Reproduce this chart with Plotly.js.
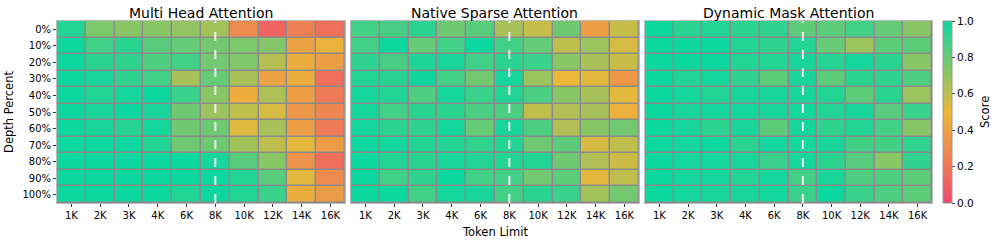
<!DOCTYPE html>
<html><head><meta charset="utf-8">
<script src="https://cdn.plot.ly/plotly-3.0.1.min.js"></script>
<style>body{margin:0;background:#fff}#c{width:996px;height:243px}</style>
</head><body><div id="c"></div>
<script>
const tokenLimits = ["1K","2K","3K","4K","6K","8K","10K","12K","14K","16K"];
const depthPercents = ["0%","10%","20%","30%","40%","50%","60%","70%","80%","90%","100%"];
const titles = ["Multi Head Attention","Native Sparse Attention","Dynamic Mask Attention"];

const mhaScores = [
  [0.95,0.75,0.72,0.72,0.70,0.66,0.30,0.12,0.25,0.18],
  [1.00,0.88,0.93,0.83,0.80,0.77,0.75,0.73,0.40,0.47],
  [1.00,0.93,0.92,0.85,0.88,0.77,0.74,0.62,0.45,0.38],
  [1.00,0.97,0.92,0.88,0.65,0.80,0.65,0.40,0.45,0.17],
  [1.00,0.95,0.98,1.00,0.90,0.72,0.45,0.64,0.38,0.22],
  [1.00,0.97,1.00,0.97,0.78,0.68,0.60,0.55,0.35,0.27],
  [1.00,0.97,0.94,0.98,0.78,0.78,0.53,0.65,0.38,0.22],
  [1.00,1.00,1.00,0.95,0.78,0.78,0.66,0.60,0.52,0.37],
  [1.00,1.00,1.00,1.00,1.00,0.98,0.83,0.72,0.33,0.17],
  [1.00,1.00,1.00,1.00,1.00,1.00,0.95,0.83,0.52,0.30],
  [1.00,1.00,1.00,1.00,0.95,1.00,0.95,0.90,0.45,0.37]
];
const nsaScores = [
  [0.88,0.87,0.93,0.78,0.83,0.65,0.58,0.78,0.38,0.58],
  [0.88,1.00,0.80,0.88,1.00,0.88,0.80,0.60,0.68,0.55],
  [0.92,0.87,0.96,0.97,0.88,0.93,0.90,0.72,0.65,0.58],
  [0.95,0.94,0.99,0.88,0.77,0.98,0.68,0.50,0.52,0.35],
  [0.98,0.95,0.85,0.98,0.90,0.95,0.86,0.72,0.65,0.52],
  [0.98,0.88,0.93,0.93,0.86,0.86,0.60,0.63,0.65,0.47],
  [0.98,0.93,0.92,0.98,0.80,0.97,0.86,0.63,0.72,0.77],
  [1.00,0.98,0.95,0.95,0.92,0.95,0.78,0.82,0.55,0.60],
  [1.00,0.95,0.93,0.97,0.95,0.95,0.95,0.78,0.63,0.57],
  [1.00,0.88,0.92,1.00,0.88,0.88,0.77,0.82,0.52,0.60],
  [1.00,1.00,0.88,0.98,0.97,0.88,0.93,0.90,0.66,0.77]
];
const dmaScores = [
  [1.00,0.93,0.95,0.93,0.92,0.82,0.82,0.88,0.80,0.72],
  [1.00,1.00,1.00,0.95,0.92,0.95,0.80,0.68,0.82,0.82],
  [1.00,1.00,1.00,0.95,0.95,0.97,0.94,0.98,0.93,0.72],
  [1.00,0.95,0.98,0.92,0.82,0.97,0.82,0.93,0.92,0.85],
  [1.00,0.98,0.95,0.97,0.97,0.97,0.95,0.82,0.93,0.68],
  [1.00,0.97,0.98,0.98,0.97,0.98,0.95,0.97,0.83,0.90],
  [1.00,0.98,0.93,0.97,0.82,0.98,0.92,0.95,0.88,0.72],
  [1.00,0.98,1.00,0.93,0.98,0.98,0.97,0.88,0.88,0.92],
  [1.00,0.98,0.98,0.97,0.90,0.98,0.93,0.83,0.72,0.92],
  [1.00,0.98,0.98,0.95,0.98,0.88,0.97,0.85,0.85,0.82],
  [1.00,0.98,0.97,0.97,0.98,0.90,1.00,0.90,0.85,0.82]
];
const dashedAt = "8K";

const cs = [[0,"#F0496E"],[0.5,"#EBB839"],[1,"#0CD79F"]];
const allScores = [mhaScores, nsaScores, dmaScores];
const domains = [[0,0.329],[0.336,0.665],[0.672,1]];
const font = {family:"DejaVu Sans, sans-serif", color:"#000"};

const data = allScores.map((z,i)=>({
  type:"heatmap", z:z, x:tokenLimits, y:depthPercents,
  xaxis: i===0?"x":"x"+(i+1), yaxis: i===0?"y":"y"+(i+1),
  colorscale:cs, zmin:0, zmax:1, xgap:1.5, ygap:1.5,
  showscale: i===0,
  colorbar:{x:1.0126, xanchor:"left", xpad:0, ypad:0, y:0.5, len:1, lenmode:"fraction",
    thickness:9, outlinecolor:"#999", outlinewidth:1,
    tickvals:[0,0.2,0.4,0.6,0.8,1], ticktext:["0.0","0.2","0.4","0.6","0.8","1.0"],
    ticks:"outside", ticklen:3, tickfont:{...font,size:10.5}},
  hoverinfo:"skip"
}));

const layout = {
  width:996, height:243, margin:{l:57,r:64,t:21,b:40},
  paper_bgcolor:"#fff", plot_bgcolor:"#8a8a8a", font:font, showlegend:false,
  annotations:[], shapes:[]
};
for(let i=0;i<3;i++){
  const xs = i===0?"xaxis":"xaxis"+(i+1), ys = i===0?"yaxis":"yaxis"+(i+1);
  layout[xs] = {domain:domains[i], anchor: i===0?"y":"y"+(i+1), type:"category",
    ticks:"outside", ticklen:3, tickcolor:"#333", tickfont:{...font,size:10},
    showline:true, linecolor:"#bbb", mirror:true, showgrid:false, zeroline:false, fixedrange:true};
  layout[ys] = {anchor: i===0?"x":"x"+(i+1), type:"category", autorange:"reversed",
    ticks: i===0?"outside":"", ticklen:3, tickcolor:"#333", showticklabels:i===0,
    tickfont:{...font,size:10}, showline:true, linecolor:"#bbb", mirror:true,
    showgrid:false, zeroline:false, fixedrange:true};
  layout.annotations.push({text:titles[i], xref:"x"+(i===0?"":i+1)+" domain", yref:"paper",
    x:0.5, y:1, yshift:-2, xanchor:"center", yanchor:"bottom", showarrow:false, font:{...font,size:14}});
  layout.shapes.push({type:"line", xref:"x"+(i===0?"":i+1), yref:"y"+(i===0?"":i+1)+" domain",
    x0:dashedAt, x1:dashedAt, y0:0, y1:1, line:{color:"#f2f2f2", width:2, dash:"dash"}});
}
layout.yaxis.title = {text:"Depth Percent", font:{...font,size:11.5}, standoff:6};
layout.annotations.push({text:"Token Limit", xref:"paper", yref:"paper", x:0.5, y:0,
  yshift:-20, xanchor:"center", yanchor:"top", showarrow:false, font:{...font,size:11.5}});
layout.annotations.push({text:"Score", xref:"paper", yref:"paper", x:1, y:0.5,
  xshift:53, xanchor:"center", yanchor:"middle", textangle:-90, showarrow:false, font:{...font,size:11.5}});

Plotly.newPlot("c", data, layout, {staticPlot:true, displayModeBar:false});
</script></body></html>
